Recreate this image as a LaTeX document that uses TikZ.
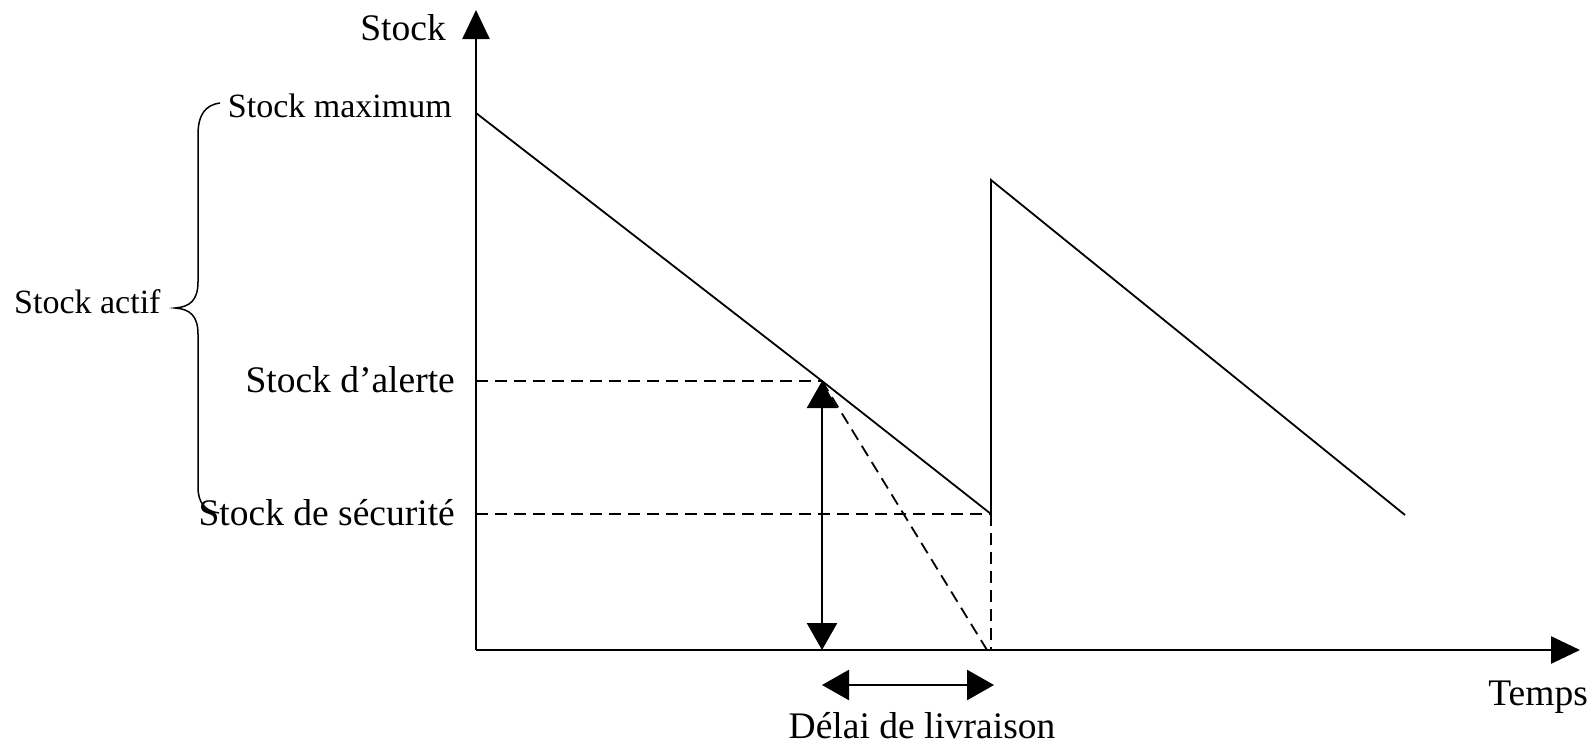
\documentclass[tikz,border=0pt]{standalone}
\usepackage{fontspec}
\setmainfont{Liberation Serif}
\usetikzlibrary{arrows.meta}
\begin{document}
\begin{tikzpicture}[x=1pt,y=-1pt,
  axis/.style={line width=2.6pt,-{Triangle[length=29pt,width=27pt]}},
  curve/.style={line width=1.8pt},
  dashline/.style={line width=1.8pt,dash pattern=on 12pt off 7pt},
  dbl/.style={line width=2.6pt,{Triangle[length=27pt,width=30pt]}-{Triangle[length=27pt,width=30pt]}},
  lblA/.style={inner sep=0pt,font=\fontsize{34}{40}\selectfont},
  lblB/.style={inner sep=0pt,font=\fontsize{37.5}{44}\selectfont}]
\useasboundingbox (0,0) rectangle (1593,745);
% key points
\coordinate (O) at (476,650);
\coordinate (Ytop) at (476,10);
\coordinate (Xend) at (1580,650);
\coordinate (M) at (476,113);
\coordinate (A) at (822,381);
\coordinate (S) at (991,514);
\coordinate (P) at (991,180);
\coordinate (E) at (1405,515);
\coordinate (Z) at (987,650);
\coordinate (Sx) at (991,650);
\coordinate (Ax) at (822,650);
\coordinate (Ay) at (476,381);
\coordinate (Sy) at (476,514);
\coordinate (D1) at (822,685);
\coordinate (D2) at (994,685);
% axes
\draw[axis] (O) -- (Ytop);
\draw[axis] (O) -- (Xend);
% stock curve
\draw[curve] (M) -- (A) -- (S) -- (P) -- (E);
% dashed
\draw[dashline] (Ay) -- (A);
\draw[dashline] (Sy) -- (S);
\draw[dashline] (S) -- (Sx);
\draw[dashline] (A) -- (Z);
% arrows
\draw[dbl] (Ax) -- (A);
\draw[dbl] (D1) -- (D2);
% brace
\draw[line width=1.5pt] (220,103) .. controls (205,105) and (198,115) .. (198,135) -- (198,282)
  .. controls (198,300) and (190,307) .. (175,308)
  .. controls (190,309) and (198,316) .. (198,334) -- (198,487)
  .. controls (198,503) and (205,511) .. (219,513);
% labels
\node[lblB,anchor=base east] (lstock) at (446,40) {Stock};
\node[lblA,anchor=base east] (lmax) at (452,117) {Stock maximum};
\node[lblA,anchor=base west] (lactif) at (14,313) {Stock actif};
\node[lblB,anchor=base east] (lalerte) at (455,392) {Stock d’alerte};
\node[lblB,anchor=base east] (lsecu) at (455,525) {Stock de sécurité};
\node[lblB,anchor=base east] (ltemps) at (1588,705) {Temps};
\node[lblB,anchor=base] (ldelai) at (922,738) {Délai de livraison};
\end{tikzpicture}
\end{document}
